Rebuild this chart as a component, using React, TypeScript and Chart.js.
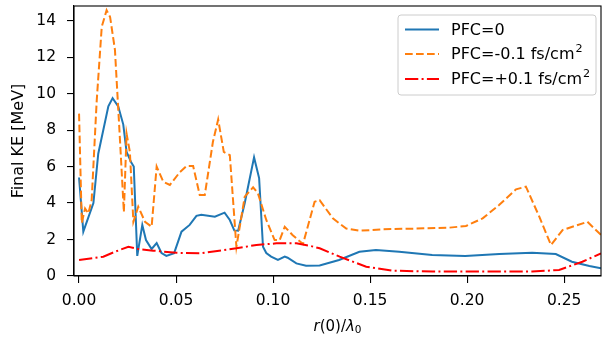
import React, { useEffect, useRef } from "react";
import { Chart, registerables } from "chart.js";
Chart.register(...registerables);

const xTicks = [0, 0.05, 0.1, 0.15, 0.2, 0.25];
const yTicks = [0, 2, 4, 6, 8, 10, 12, 14];
const seriesLabels = ["PFC=0", "PFC=-0.1 fs/cm", "PFC=+0.1 fs/cm"];
const seriesSup = ["", "2", "2"];
const yTitle = "Final KE [MeV]";

const blueX = [0, 0.0022, 0.0074, 0.0099, 0.0151, 0.0173, 0.0202, 0.0228, 0.0245, 0.027, 0.0282, 0.030, 0.0326, 0.0345, 0.0374, 0.040, 0.0425, 0.045, 0.049, 0.0528, 0.057, 0.0605, 0.063, 0.070, 0.075, 0.0777, 0.080, 0.082, 0.0854, 0.0902, 0.0928, 0.0948, 0.0965, 0.099, 0.1025, 0.106, 0.1075, 0.112, 0.117, 0.124, 0.134, 0.1445, 0.153, 0.165, 0.182, 0.199, 0.2166, 0.2335, 0.2457, 0.254, 0.263, 0.269];
const blueY = [5.4, 2.43, 4.0, 6.7, 9.3, 9.75, 9.3, 8.3, 6.8, 6.2, 6.0, 1.1, 2.8, 1.97, 1.48, 1.8, 1.26, 1.1, 1.25, 2.43, 2.8, 3.3, 3.36, 3.25, 3.47, 3.07, 2.5, 2.48, 4.0, 6.5, 5.37, 1.6, 1.26, 1.06, 0.88, 1.06, 1.0, 0.69, 0.56, 0.58, 0.88, 1.33, 1.42, 1.33, 1.15, 1.1, 1.2, 1.28, 1.2, 0.78, 0.55, 0.42];

const orangeX = [0, 0.0014, 0.0031, 0.0048, 0.0065, 0.0091, 0.0117, 0.0142, 0.016, 0.0185, 0.0211, 0.0231, 0.0245, 0.0262, 0.028, 0.0305, 0.034, 0.0374, 0.040, 0.0434, 0.0468, 0.052, 0.0554, 0.0588, 0.0622, 0.0648, 0.069, 0.0717, 0.0746, 0.0777, 0.0811, 0.0854, 0.0897, 0.0922, 0.0965, 0.1008, 0.1034, 0.106, 0.110, 0.1154, 0.1214, 0.124, 0.1308, 0.1377, 0.1445, 0.1565, 0.1737, 0.1908, 0.1994, 0.208, 0.2166, 0.2252, 0.2303, 0.2372, 0.2432, 0.2492, 0.262, 0.269];
const orangeY = [8.9, 2.9, 3.7, 3.43, 4.16, 9.6, 13.66, 14.57, 14.2, 12.4, 7.45, 3.5, 7.8, 6.8, 2.97, 3.8, 2.97, 2.7, 6.0, 5.17, 4.99, 5.7, 6.03, 6.03, 4.44, 4.44, 7.36, 8.58, 6.8, 6.63, 1.6, 4.35, 4.86, 4.53, 3.07, 1.97, 1.97, 2.7, 2.25, 1.75, 4.07, 4.16, 3.16, 2.6, 2.48, 2.56, 2.6, 2.65, 2.74, 3.16, 3.9, 4.75, 4.9, 3.25, 1.7, 2.52, 2.97, 2.25];

const redX = [0, 0.0125, 0.0185, 0.0254, 0.0314, 0.0382, 0.0502, 0.0622, 0.0811, 0.0914, 0.1017, 0.112, 0.1188, 0.124, 0.1343, 0.148, 0.1617, 0.1823, 0.208, 0.2335, 0.2474, 0.2594, 0.269];
const redY = [0.88, 1.06, 1.33, 1.6, 1.46, 1.39, 1.27, 1.24, 1.52, 1.7, 1.79, 1.79, 1.66, 1.52, 1.06, 0.51, 0.29, 0.24, 0.24, 0.24, 0.33, 0.78, 1.24];

const FONT = "'DejaVu Sans', sans-serif";
const TICK_FS = 15.5;
const LEG_FS = 16;
const YT_FS = 16;
const XT_FS = 15;
const colors = ["#1f77b4", "#ff7f0e", "#ff0000"];
const dashes: number[][] = [[], [7.7, 3.3], [13.3, 3.3, 2, 3.3]];

const pts = (xs: number[], ys: number[]) => xs.map((x, i) => ({ x, y: ys[i] }));

const overlay = {
  id: "overlay",
  afterDraw(chart: any) {
    const ctx = chart.ctx as CanvasRenderingContext2D;
    const a = chart.chartArea;
    ctx.save();
    // frame
    ctx.strokeStyle = "#000";
    ctx.lineWidth = 1.1;
    ctx.setLineDash([]);
    ctx.strokeRect(a.left, a.top, a.right - a.left, a.bottom - a.top);

    // y title
    ctx.fillStyle = "#000";
    ctx.font = `${YT_FS}px ${FONT}`;
    ctx.textAlign = "center";
    ctx.textBaseline = "middle";
    ctx.save();
    ctx.translate(19, (a.top + a.bottom) / 2);
    ctx.rotate(-Math.PI / 2);
    ctx.fillText(yTitle, 0, 0);
    ctx.restore();

    // x title: r(0)/λ0
    const segs = [
      { t: "r", f: `italic ${XT_FS}px ${FONT}`, dy: 0 },
      { t: "(0)/", f: `${XT_FS}px ${FONT}`, dy: 0 },
      { t: "λ", f: `italic ${XT_FS}px ${FONT}`, dy: 0 },
      { t: "0", f: `${(XT_FS * 0.7).toFixed(1)}px ${FONT}`, dy: 3.5 },
    ];
    let tw = 0;
    for (const s of segs) { ctx.font = s.f; tw += ctx.measureText(s.t).width; }
    let xx = (a.left + a.right) / 2 - tw / 2;
    const ty = 327;
    ctx.textAlign = "left";
    ctx.textBaseline = "middle";
    for (const s of segs) {
      ctx.font = s.f;
      ctx.fillText(s.t, xx, ty + s.dy);
      xx += ctx.measureText(s.t).width;
    }

    // legend
    const bx = 398, by = 15, bw = 198, bh = 80, r = 3;
    ctx.beginPath();
    ctx.moveTo(bx + r, by);
    ctx.lineTo(bx + bw - r, by);
    ctx.quadraticCurveTo(bx + bw, by, bx + bw, by + r);
    ctx.lineTo(bx + bw, by + bh - r);
    ctx.quadraticCurveTo(bx + bw, by + bh, bx + bw - r, by + bh);
    ctx.lineTo(bx + r, by + bh);
    ctx.quadraticCurveTo(bx, by + bh, bx, by + bh - r);
    ctx.lineTo(bx, by + r);
    ctx.quadraticCurveTo(bx, by, bx + r, by);
    ctx.closePath();
    ctx.fillStyle = "rgba(255,255,255,0.8)";
    ctx.fill();
    ctx.strokeStyle = "#cccccc";
    ctx.lineWidth = 1;
    ctx.stroke();
    const rows = [29.5, 54, 79];
    for (let i = 0; i < 3; i++) {
      const ry = rows[i];
      ctx.beginPath();
      ctx.setLineDash(dashes[i]);
      ctx.strokeStyle = colors[i];
      ctx.lineWidth = 2;
      ctx.moveTo(405, ry);
      ctx.lineTo(439, ry);
      ctx.stroke();
      ctx.setLineDash([]);
      ctx.fillStyle = "#000";
      ctx.font = `${LEG_FS}px ${FONT}`;
      ctx.textAlign = "left";
      ctx.textBaseline = "middle";
      ctx.fillText(seriesLabels[i], 451, ry + 1);
      if (seriesSup[i]) {
        const w = ctx.measureText(seriesLabels[i]).width;
        ctx.font = `${(LEG_FS * 0.7).toFixed(1)}px ${FONT}`;
        ctx.fillText(seriesSup[i], 451 + w + 1, ry - 4.5);
      }
    }
    ctx.restore();
  },
};

export default function App() {
  const ref = useRef<HTMLCanvasElement>(null);
  useEffect(() => {
    document.body.style.margin = "0";
    const tickFont = { family: FONT, size: TICK_FS };
    const chart = new Chart(ref.current as HTMLCanvasElement, {
      type: "line",
      data: {
        datasets: [
          { label: seriesLabels[0], data: pts(blueX, blueY), borderColor: colors[0], borderWidth: 2, pointRadius: 0, tension: 0, fill: false, order: 2 },
          { label: seriesLabels[1] + "²", data: pts(orangeX, orangeY), borderColor: colors[1], borderWidth: 2, borderDash: dashes[1], pointRadius: 0, tension: 0, fill: false, order: 1 },
          { label: seriesLabels[2] + "²", data: pts(redX, redY), borderColor: colors[2], borderWidth: 2, borderDash: dashes[2], pointRadius: 0, tension: 0, fill: false, order: 0 },
        ],
      },
      options: {
        animation: false,
        responsive: false,
        events: [],
        layout: { padding: { top: 6, right: 2, left: 0, bottom: 0 } },
        plugins: { legend: { display: false }, tooltip: { enabled: false } },
        scales: {
          x: {
            type: "linear",
            min: -0.0026,
            max: 0.269,
            afterBuildTicks: (s: any) => { s.ticks = xTicks.map((v) => ({ value: v })); },
            afterFit: (s: any) => { s.height = 61; s.paddingLeft = 0; s.paddingRight = 0; },
            ticks: { callback: (v: any) => Number(v).toFixed(2), font: tickFont, color: "#000", padding: 9, maxRotation: 0, autoSkip: false },
            grid: { drawOnChartArea: false, drawTicks: true, tickLength: 7, color: "#000", lineWidth: 1.1 },
            border: { display: true, color: "#000", width: 1.1 },
          },
          y: {
            type: "linear",
            min: 0,
            max: 14.8,
            afterBuildTicks: (s: any) => { s.ticks = yTicks.map((v) => ({ value: v })); },
            afterFit: (s: any) => { s.width = 74; s.paddingTop = 0; s.paddingBottom = 0; },
            ticks: { callback: (v: any) => String(v), font: tickFont, color: "#000", padding: 11, autoSkip: false },
            grid: { drawOnChartArea: false, drawTicks: true, tickLength: 7, color: "#000", lineWidth: 1.1 },
            border: { display: true, color: "#000", width: 1.1 },
          },
        },
      },
      plugins: [overlay],
    } as any);
    return () => chart.destroy();
  }, []);
  return <canvas ref={ref} width={603} height={337} style={{ display: "block" }} />;
}
